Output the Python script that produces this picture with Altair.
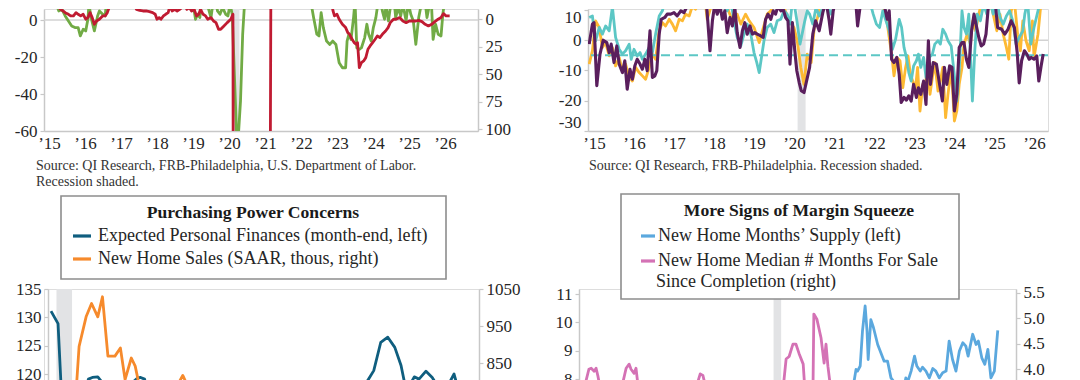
import altair as alt
import pandas as pd

FONT = "Liberation Serif"
AX_GRAY = "#c8c8c8"
LABEL_C = "#262626"
SHADE = "#e2e3e5"

# ---------------- data ----------------
recession_start = [2020.09]
recession_end = [2020.29]

# Top-left: Philly Fed (left, green) vs claims YoY inverted (right, red)
tl_green_year = [
    2014.95, 2015.05, 2015.14, 2015.21, 2015.27, 2015.36, 2015.45, 2015.54, 2015.63, 2015.72,
    2015.81, 2015.87, 2015.95, 2016.02, 2016.08, 2016.11, 2016.17, 2016.26, 2016.35, 2016.40,
    2016.49, 2016.56, 2016.59, 2016.67, 2016.80, 2017.00, 2017.30, 2017.60, 2017.90, 2018.20,
    2018.30, 2018.38, 2018.47, 2018.56, 2018.65, 2018.80, 2018.93, 2018.99, 2019.07, 2019.13,
    2019.19, 2019.23, 2019.32, 2019.46, 2019.50, 2019.55, 2019.62, 2019.68, 2019.75, 2019.82,
    2019.91, 2019.97, 2020.03, 2020.09, 2020.16, 2020.23, 2020.32, 2020.38, 2020.45, 2020.70,
    2021.00, 2021.50, 2021.90, 2022.20, 2022.27, 2022.35, 2022.44, 2022.50, 2022.56, 2022.62,
    2022.71, 2022.80, 2022.88, 2022.97, 2023.06, 2023.15, 2023.24, 2023.28, 2023.33, 2023.39,
    2023.46, 2023.50, 2023.55, 2023.62, 2023.68, 2023.77, 2023.83, 2023.88, 2023.95, 2024.01,
    2024.08, 2024.14, 2024.19, 2024.26, 2024.32, 2024.36, 2024.43, 2024.50, 2024.57, 2024.63,
    2024.70, 2024.77, 2024.83, 2024.92, 2024.98, 2025.05, 2025.12, 2025.19, 2025.27, 2025.36,
    2025.42, 2025.50, 2025.57, 2025.62, 2025.67, 2025.74, 2025.81, 2025.89, 2025.94, 2025.99,
    2026.05]
tl_green_val = [
    12, 9.4, 7.6, 8.5, 4.9, 5.8, 2.2, -0.5, -3.2, -4.1,
    -4.1, -8.6, -5.0, -5.9, 0.4, 8.5, 1.3, -5.9, 2.2, 4.9,
    3.1, 2.2, 8.5, 14, 18, 22, 25, 20, 24, 16,
    12, 9.4, 7.6, 9.4, 14, 17, 13, 10.3, 0.4, 3.1,
    1.3, 8.5, 14, 4.0, 1.3, 8.5, 13, 4.9, 3.1, 6.7,
    3.1, 2.2, 8.5, 3.0, -35, -72, -43.8, -7.7, 15, 30,
    38, 35, 25, 14, 10.3, 1.3, -7.7, -8.6, 4.0, -4.1,
    -11.4, -13.2, -11.4, -13.2, -23.1, -25.8, -25.8, -11.4, -7.7, -10.5,
    1.3, 10.3, -15.0, -15.9, -15.0, -9.5, -2.3, -7.7, -11.4, -4.1,
    1.3, 9.4, 14, 4.9, 0.4, 7.6, -0.5, 9.4, 14, 1.3,
    6.7, 2.2, 8.5, -0.5, 9.4, 3.1, -0.5, -13.2, 1.3, 10.3,
    14, 1.3, 8.5, 10.3, -10.5, -2.3, -7.7, -8.6, 3.1, 10.3,
    15]
tl_red_year = [
    2014.95, 2015.05, 2015.14, 2015.23, 2015.32, 2015.39, 2015.45, 2015.54, 2015.60, 2015.68,
    2015.75, 2015.81, 2015.88, 2015.95, 2016.02, 2016.08, 2016.14, 2016.20, 2016.26, 2016.32,
    2016.40, 2016.49, 2016.56, 2016.62, 2016.67, 2016.76, 2016.85, 2016.94, 2017.03, 2017.10,
    2017.16, 2017.23, 2017.30, 2017.34, 2017.43, 2017.52, 2017.61, 2017.70, 2017.79, 2017.88,
    2017.95, 2018.00, 2018.06, 2018.11, 2018.18, 2018.24, 2018.31, 2018.36, 2018.42, 2018.49,
    2018.56, 2018.63, 2018.69, 2018.76, 2018.83, 2018.90, 2018.96, 2019.03, 2019.10, 2019.16,
    2019.21, 2019.28, 2019.35, 2019.41, 2019.50, 2019.57, 2019.64, 2019.71, 2019.77, 2019.86,
    2019.95, 2020.05, 2020.11, 2020.14, 2020.30, 2020.60, 2021.00, 2021.14, 2021.17, 2021.50,
    2022.00, 2022.50, 2022.84, 2022.89, 2022.93, 2023.00, 2023.06, 2023.15, 2023.24, 2023.30,
    2023.35, 2023.42, 2023.48, 2023.53, 2023.57, 2023.62, 2023.68, 2023.74, 2023.80, 2023.86,
    2023.92, 2023.99, 2024.06, 2024.12, 2024.19, 2024.26, 2024.35, 2024.42, 2024.48, 2024.57,
    2024.64, 2024.74, 2024.83, 2024.92, 2025.01, 2025.10, 2025.19, 2025.27, 2025.36, 2025.45,
    2025.54, 2025.63, 2025.72, 2025.81, 2025.89, 2025.96, 2026.03, 2026.13]
tl_red_val = [
    -17, -15.3, -13.8, -12.3, -9.2, -7.7, -6.2, -4.7, -3.2, -3.2,
    -6.2, -4.7, -3.2, -4.7, -0.2, -1.7, -6.2, -1.7, 4.4, 1.4,
    -0.2, -3.2, -3.2, -6.2, -10.8, -10.8, -11.4, -12.3, -13.2, -15.3,
    -12.3, -13.2, -16.8, -15.3, -9.2, -8.3, -7.7, -7.7, -7.1, -6.2,
    -4.7, -0.2, -1.7, -0.2, -3.2, -4.7, -6.2, -12.3, -7.7, -9.2,
    -7.7, -9.2, -10.8, -13.8, -9.2, -10.8, -7.7, -9.2, -3.2, -4.7,
    -9.2, -4.7, -3.2, -0.2, -1.7, 1.4, 2.9, 8.9, 8.9, 5.9,
    2.9, -0.2, -4.7, 600, 2500, 900, 400, 200, -90, -85,
    -60, -35, -16.8, -7.7, -3.2, -4.7, -0.2, 4.4, 7.4, 12.0,
    13.5, 18.0, 21.1, 22.6, 21.1, 43.8, 39.2, 37.7, 34.7, 27.1,
    24.1, 21.1, 18.0, 15.0, 16.5, 13.5, 10.5, 7.4, 2.9, -0.2,
    -0.2, -1.7, 1.4, 2.9, 1.4, 1.4, 1.4, 0.8, 2.0, 4.4,
    5.9, 4.4, 2.0, -0.2, -1.7, -5.3, -3.2, -3.2]

# Top-right: three survey series and a -5 reference level
tr_purple_year = [
    2014.88, 2014.96, 2015.00, 2015.07, 2015.15, 2015.23, 2015.32, 2015.38, 2015.43, 2015.50,
    2015.57, 2015.63, 2015.71, 2015.77, 2015.83, 2015.90, 2015.96, 2016.02, 2016.08, 2016.15,
    2016.21, 2016.27, 2016.33, 2016.40, 2016.46, 2016.52, 2016.57, 2016.63, 2016.68, 2016.77,
    2016.83, 2016.92, 2017.00, 2017.08, 2017.17, 2017.25, 2017.33, 2017.42, 2017.50, 2017.58,
    2017.67, 2017.79, 2017.90, 2017.96, 2018.02, 2018.08, 2018.15, 2018.21, 2018.27, 2018.33,
    2018.40, 2018.46, 2018.52, 2018.58, 2018.65, 2018.71, 2018.77, 2018.83, 2018.90, 2018.96,
    2019.02, 2019.08, 2019.17, 2019.23, 2019.29, 2019.35, 2019.42, 2019.48, 2019.54, 2019.60,
    2019.67, 2019.73, 2019.79, 2019.85, 2019.90, 2019.96, 2020.02, 2020.07, 2020.13, 2020.18,
    2020.25, 2020.39, 2020.47, 2020.54, 2020.63, 2020.72, 2020.80, 2020.88, 2020.92, 2020.98,
    2021.04, 2021.20, 2021.40, 2021.53, 2021.59, 2021.65, 2021.73, 2021.85, 2021.93, 2022.06,
    2022.14, 2022.22, 2022.33, 2022.38, 2022.44, 2022.50, 2022.57, 2022.63, 2022.68, 2022.75,
    2022.81, 2022.87, 2022.93, 2022.99, 2023.06, 2023.11, 2023.17, 2023.24, 2023.30, 2023.36,
    2023.41, 2023.48, 2023.56, 2023.64, 2023.71, 2023.76, 2023.82, 2023.89, 2023.95, 2024.01,
    2024.07, 2024.13, 2024.20, 2024.25, 2024.31, 2024.37, 2024.44, 2024.50, 2024.55, 2024.62,
    2024.68, 2024.74, 2024.80, 2024.86, 2024.93, 2025.02, 2025.09, 2025.19, 2025.27, 2025.35,
    2025.43, 2025.51, 2025.58, 2025.63, 2025.69, 2025.76, 2025.82, 2025.88, 2025.93, 2026.00,
    2026.07, 2026.12, 2026.18, 2026.23]
tr_purple_val = [
    -1.3, 5.3, 5.8, -15, -4.6, 0, -0.8, -4.1, -1.3, -7.4,
    -1.9, -7.9, -10.7, -6.8, -16.2, -9.6, -12.9, -8.5, -6.3, -7.9,
    -9.6, -6.3, -10.1, 3.1, -12.3, -11.8, -10.1, 2.0, 6.9, 7.5,
    8.6, 8.6, 9.1, 8.0, 9.7, 9.1, 11.3, 11.9, 14, 12.4,
    15, 16, -3.5, 6.4, 11.9, 8.6, 11.3, 6.9, 9.7, 2.5,
    7.5, 4.7, 10.8, 2.5, -2.4, 3.1, 5.8, 2.0, 4.7, 2.0,
    2.5, 2.0, 1.4, 0.9, 6.9, 8.6, 6.9, 9.7, 8.6, 11.3,
    9.7, 10.2, 7.5, 6.4, -7.9, 5.8, -3.5, -10.1, -14, -16.7,
    -17.3, -9.0, 2.0, 6.4, 3.1, 9.1, 13.0, 6.4, 2.0, 9.7,
    13.0, 17, 18, 15, 4.7, 10.8, 14, 16, 11.4, 14,
    10.8, 14, 6.9, 9.7, -6.3, -7.4, -5.7, -11.3, -20.6, -18.9,
    -19.8, -18.4, -20.1, -14.6, -18.9, -15.7, -17.9, -13.5, -21.2, -0.2,
    -14.6, -7.4, -7.9, -14.6, -20.1, -9.0, -14.6, -8.5, -9.0, -23.4,
    -17.9, -2.4, -0.8, -0.8, -6.3, -9.0, 3.1, 8.6, 5.3, 0.9,
    -1.9, -1.3, 2.0, 11.4, 13.0, 14, 4.2, 3.6, 2.0, 3.6,
    6.4, 4.2, -4.1, -14.1, -6.8, -3.5, -4.6, -6.3, -5.7, -6.3,
    -5.2, -13.5, -8.4, -4.6]
tr_cyan_year = [
    2014.88, 2014.96, 2015.04, 2015.13, 2015.21, 2015.29, 2015.38, 2015.46, 2015.54, 2015.63,
    2015.71, 2015.79, 2015.88, 2015.93, 2016.00, 2016.08, 2016.15, 2016.21, 2016.29, 2016.38,
    2016.46, 2016.54, 2016.63, 2016.71, 2016.77, 2017.00, 2017.30, 2017.60, 2017.88, 2018.00,
    2018.17, 2018.33, 2018.42, 2018.50, 2018.58, 2018.67, 2018.75, 2018.83, 2018.92, 2019.00,
    2019.07, 2019.13, 2019.18, 2019.25, 2019.33, 2019.42, 2019.50, 2019.58, 2019.67, 2019.75,
    2019.83, 2019.90, 2019.96, 2020.02, 2020.08, 2020.15, 2020.21, 2020.27, 2020.33, 2020.39,
    2020.47, 2020.55, 2020.63, 2020.72, 2020.80, 2020.92, 2021.04, 2021.30, 2021.60, 2021.89,
    2021.98, 2022.06, 2022.14, 2022.22, 2022.30, 2022.38, 2022.46, 2022.54, 2022.63, 2022.69,
    2022.75, 2022.81, 2022.87, 2022.93, 2022.99, 2023.06, 2023.11, 2023.17, 2023.24, 2023.30,
    2023.38, 2023.46, 2023.52, 2023.60, 2023.66, 2023.72, 2023.79, 2023.85, 2023.93, 2024.01,
    2024.07, 2024.13, 2024.20, 2024.25, 2024.31, 2024.37, 2024.46, 2024.52, 2024.58, 2024.66,
    2024.74, 2024.82, 2024.90, 2024.98, 2025.07, 2025.15, 2025.23, 2025.31, 2025.39, 2025.47,
    2025.55, 2025.63, 2025.72, 2025.77, 2025.84, 2025.92, 2026.00, 2026.08, 2026.16]
tr_cyan_val = [
    7.5, 8.0, -0.2, 4.2, 2.0, 4.7, 3.1, 11, 0.9, -3.0,
    -4.6, -3.5, -1.3, -6.3, -3.0, -5.2, -4.1, -6.3, -4.6, -2.4,
    -4.1, 2.0, 8.0, 9.7, 13, 15, 17, 14, 12.4, 15,
    13, 9.7, 13, 6.4, 0.9, -1.9, 2.0, 5.3, 2.0, -4.1,
    -7.4, -10.7, -6.3, -0.2, 4.2, 5.3, 2.5, 6.4, 6.9, 9.7,
    8.6, 5.3, 13, 10.8, 5.8, -1.3, 2.5, 6.4, 9.7, 8.6,
    5.3, 10.8, 8.0, 10.8, 13, 8.6, 11.9, 17, 16, 13,
    8.6, 5.3, 4.2, 9.7, 6.4, 3.1, -3.0, 0.3, 6.9, 4.2,
    -2.4, -5.7, -10.7, -13.5, -8.5, -6.8, -4.6, -9.0, -5.7, -12.3,
    -5.7, -4.6, -1.3, -0.2, -1.3, 3.6, 2.0, -0.2, -1.9, -11.8,
    -20.1, -10.1, 9.7, 4.2, 2.0, 8.6, -20.1, -3.5, 8.6, 6.4,
    11.9, 8.6, 13, 8.6, 13, 7.5, 5.3, 8.0, 9.7, 6.4,
    -1.3, 0.9, 3.1, 8.6, 13, -1.3, 4.2, 8.6, 13]
tr_yellow_year = [
    2014.88, 2014.96, 2015.04, 2015.13, 2015.21, 2015.29, 2015.38, 2015.46, 2015.54, 2015.63,
    2015.71, 2015.79, 2015.88, 2015.96, 2016.04, 2016.13, 2016.21, 2016.29, 2016.38, 2016.46,
    2016.54, 2016.63, 2016.71, 2016.79, 2016.88, 2016.96, 2017.04, 2017.13, 2017.21, 2017.29,
    2017.38, 2017.46, 2017.54, 2017.63, 2017.75, 2017.83, 2017.92, 2018.00, 2018.20, 2018.33,
    2018.46, 2018.58, 2018.67, 2018.79, 2018.88, 2019.00, 2019.13, 2019.21, 2019.33, 2019.42,
    2019.50, 2019.60, 2019.75, 2019.88, 2020.00, 2020.08, 2020.17, 2020.25, 2020.33, 2020.43,
    2020.51, 2020.59, 2020.67, 2021.00, 2021.50, 2022.00, 2022.18, 2022.30, 2022.38, 2022.44,
    2022.50, 2022.57, 2022.65, 2022.72, 2022.79, 2022.85, 2022.91, 2022.98, 2023.03, 2023.09,
    2023.15, 2023.22, 2023.28, 2023.33, 2023.40, 2023.46, 2023.52, 2023.60, 2023.66, 2023.72,
    2023.79, 2023.85, 2023.93, 2024.01, 2024.07, 2024.13, 2024.20, 2024.25, 2024.33, 2024.41,
    2024.47, 2024.54, 2024.62, 2024.70, 2024.82, 2024.90, 2024.98, 2025.07, 2025.15, 2025.23,
    2025.31, 2025.37, 2025.43, 2025.51, 2025.59, 2025.66, 2025.72, 2025.80, 2025.88, 2025.96,
    2026.00, 2026.10, 2026.18]
tr_yellow_val = [
    -7.9, -3.5, 6.4, 4.2, -2.4, -0.8, -5.2, -2.4, -8.5, -5.7,
    -10.1, -7.9, -12.3, -13.5, -9.0, -10.7, -11.8, -12.9, -9.0, -4.6,
    -6.3, 3.1, 5.8, 4.7, 6.9, 5.3, 3.1, 6.9, 6.4, 8.6,
    8.0, 11.3, 10.2, 13, 16, 6.9, 10.8, 13, 15, 10.8,
    6.4, 8.6, 5.3, 8.6, 6.4, 4.2, -0.8, 3.1, 8.6, 9.7,
    11.9, 14, 10.8, 6.4, 4.2, -0.2, -9.0, -14.6, -4.6, -7.4,
    4.7, 7.5, 13, 18, 20, 16, 13, 8.6, 0.9, -4.6,
    -11.8, -5.7, -6.8, -15.7, -9.0, -5.2, -11.2, -14.0, -16.8, -9.0,
    -23.4, -14.6, -16.8, -7.9, -17.9, -12.3, -7.4, -16.8, -13.5, -9.0,
    -25.6, -17.9, -9.0, -26.7, -23.4, -14.6, -9.0, -1.3, 2.0, -1.3,
    6.4, 3.1, 8.6, 13, 9.7, 13, 8.6, 3.1, 8.6, 2.0,
    -2.4, -6.3, 9.7, 13, 2.0, -3.5, 6.4, -0.2, -3.5, 6.4,
    -5.7, 2.0, 13]
tr_reference_level = [-5]

# Bottom-left: Purchasing Power Concerns
bl_finances_year = [
    2020.02, 2020.11, 2020.17, 2020.25, 2020.35, 2020.45, 2020.50, 2020.55, 2020.62, 2020.66,
    2020.80, 2021.00, 2021.09, 2021.13, 2021.17, 2021.22, 2021.26, 2021.60, 2022.00, 2022.50,
    2023.00, 2023.50, 2023.90, 2024.08, 2024.16, 2024.25, 2024.34, 2024.43, 2024.51, 2024.55,
    2024.62, 2024.68, 2024.74, 2024.83, 2024.91, 2024.95, 2025.05, 2025.12, 2025.19, 2025.23,
    2025.40]
bl_finances_val = [
    131.1, 128.9, 112, 110, 114, 117, 119.1, 119.4, 119.5, 118.8,
    117, 117.5, 118.8, 119.3, 119.4, 119.1, 117, 115, 112, 106,
    110, 114, 117, 118.8, 120.6, 125.6, 126.5, 124.7, 121.5, 118.8,
    118, 119.5, 119.1, 120.5, 119.4, 118.5, 117.5, 118.2, 120.0, 118,
    116]
bl_sales_year = [
    2020.00, 2020.10, 2020.20, 2020.30, 2020.38, 2020.47, 2020.54, 2020.62, 2020.68, 2020.75,
    2020.84, 2020.91, 2020.97, 2021.05, 2021.10, 2021.14, 2021.30, 2021.50, 2021.64, 2021.71,
    2021.77, 2022.00, 2022.30, 2022.60, 2023.00, 2023.50, 2024.00, 2024.50, 2025.00, 2025.40]
bl_sales_val = [
    760, 720, 610, 640, 895, 975, 1011, 975, 1029, 869,
    869, 891, 806, 864, 842, 802, 770, 720, 790, 817,
    790, 780, 700, 600, 640, 690, 660, 700, 680, 660]

# Bottom-right: More Signs of Margin Squeeze
br_supply_year = [
    2015.00, 2016.00, 2017.00, 2018.00, 2019.00, 2020.00, 2020.50, 2021.00, 2021.50, 2021.90,
    2022.10, 2022.21, 2022.26, 2022.30, 2022.37, 2022.43, 2022.50, 2022.55, 2022.58, 2022.65,
    2022.72, 2022.83, 2023.00, 2023.09, 2023.18, 2023.26, 2023.40, 2023.52, 2023.57, 2023.62,
    2023.71, 2023.80, 2023.86, 2023.95, 2024.01, 2024.10, 2024.19, 2024.28, 2024.36, 2024.45,
    2024.54, 2024.63, 2024.71, 2024.80, 2024.89, 2024.98, 2025.07, 2025.15, 2025.21, 2025.33,
    2025.42, 2025.48, 2025.57, 2025.65, 2025.73, 2025.81, 2025.90, 2025.99]
br_supply_val = [
    5.2, 5.3, 5.5, 6.0, 6.3, 5.8, 4.0, 4.5, 5.8, 6.8,
    7.6, 7.93, 8.34, 8.28, 8.46, 9.69, 10.58, 9.69, 8.69, 10.1,
    9.81, 9.22, 8.63, 8.63, 8.04, 7.9, 7.5, 7.6, 8.04, 7.9,
    8.28, 8.81, 8.46, 8.28, 8.42, 8.28, 8.04, 8.37, 8.28, 8.04,
    8.22, 8.28, 9.34, 8.69, 8.28, 8.99, 9.28, 9.16, 8.81, 9.58,
    9.22, 9.34, 8.75, 8.52, 9.05, 8.04, 8.28, 9.72]
br_months_year = [
    2015.00, 2015.15, 2015.23, 2015.29, 2015.37, 2015.42, 2015.47, 2015.51, 2015.75, 2016.00,
    2016.13, 2016.21, 2016.29, 2016.34, 2016.42, 2016.47, 2016.52, 2016.80, 2017.50, 2018.00,
    2018.10, 2018.16, 2018.23, 2018.29, 2018.60, 2019.20, 2019.80, 2020.20, 2020.36, 2020.42,
    2020.50, 2020.60, 2020.68, 2020.76, 2020.87, 2020.90, 2021.00, 2021.13, 2021.15, 2021.23,
    2021.34, 2021.42, 2021.47, 2021.52, 2021.58, 2021.80, 2022.50, 2023.00, 2024.00, 2025.00,
    2025.90]
br_months_val = [
    3.6, 3.76, 4.0, 4.02, 3.96, 4.02, 3.86, 3.7, 3.5, 3.45,
    3.76, 4.02, 4.1, 4.0, 3.92, 4.02, 3.7, 3.5, 3.3, 3.5,
    3.76, 3.91, 3.88, 3.7, 3.5, 3.4, 3.5, 3.6, 3.76, 4.2,
    4.25, 4.49, 4.49, 4.31, 4.1, 3.76, 3.6, 3.76, 5.08, 4.98,
    4.61, 4.12, 4.49, 4.06, 3.7, 3.3, 2.8, 2.9, 3.0, 3.2,
    3.4]

year_ticks = list(range(2015, 2027))

# texts
TL_SOURCE_1 = "Source: QI Research, FRB-Philadelphia, U.S. Department of Labor."
TL_SOURCE_2 = "Recession shaded."
TR_SOURCE = "Source: QI Research, FRB-Philadelphia. Recession shaded."
BL_TITLE = "Purchasing Power Concerns"
BL_ITEM_1 = "Expected Personal Finances (month-end, left)"
BL_ITEM_2 = "New Home Sales (SAAR, thous, right)"
BR_TITLE = "More Signs of Margin Squeeze"
BR_ITEM_1 = "New Home Months\u2019 Supply (left)"
BR_ITEM_2a = "New Home Median # Months For Sale"
BR_ITEM_2b = "Since Completion (right)"

C_GREEN = "#71ab45"
C_RED = "#c01b32"
C_YELLOW = "#fdb933"
C_CYAN = "#5cc7c5"
C_PURPLE = "#5a1f5d"
C_BLUE = "#0f5e7f"
C_ORANGE = "#f68a2c"
C_LBLUE = "#5ba8de"
C_PINK = "#d472b5"

# ---------------- helpers ----------------
ONE = pd.DataFrame({"k": [0]})
rec_df = pd.DataFrame({"start": recession_start, "end": recession_end})
HYPHEN_EXPR = "replace(datum.label, '\u2212', '-')"


def df(years, vals):
    assert len(years) == len(vals)
    return pd.DataFrame({"year": years, "v": vals})


def yaxis(values, orient, fmt=None, flush=None, offset=None):
    kw = dict(values=values, orient=orient, title=None, grid=False,
              domainColor=AX_GRAY, domainWidth=1.5, tickColor=AX_GRAY,
              tickSize=4, tickWidth=1.2, labelFont=FONT, labelFontSize=17,
              labelColor=LABEL_C, labelPadding=3, labelExpr=HYPHEN_EXPR)
    if fmt:
        kw["format"] = fmt
    if flush is not None:
        kw["labelFlush"] = flush
    if offset is not None:
        kw["offset"] = offset
    return alt.Axis(**kw)


def year_axis():
    return alt.Axis(values=year_ticks, title=None, grid=False, ticks=False,
                    domainColor=AX_GRAY, domainWidth=1.5, labelFont=FONT,
                    labelFontSize=17, labelColor=LABEL_C, labelPadding=4,
                    labelFlush=False,
                    labelExpr="'\u2019' + slice(toString(datum.value), 2)")


def xenc(field, domain, axis):
    return alt.X(field, type="quantitative",
                 scale=alt.Scale(domain=domain, nice=False, zero=False), axis=axis)


def line(data, domain_x, axis_x, ydom, yax, color, reverse=False, width=2.8):
    return alt.Chart(data).mark_line(color=color, strokeWidth=width, clip=True,
                                     strokeJoin="round").encode(
        x=xenc("year", domain_x, axis_x),
        y=alt.Y("v:Q", scale=alt.Scale(domain=ydom, nice=False, zero=False,
                                       reverse=reverse), axis=yax),
    )


def shade(domain_x, axis_x):
    return alt.Chart(rec_df).mark_rect(color=SHADE).encode(
        x=xenc("start", domain_x, axis_x), x2="end:Q")


def text(t, x, y, size=14, weight="normal", align="left", color="#333333"):
    return alt.Chart(ONE).mark_text(text=t, font=FONT, fontSize=size, fontWeight=weight,
                                    align=align, baseline="middle", color=color).encode(
        x=alt.value(x), y=alt.value(y))


def hrule(y, ydom, color, width=1.5, dash=None, reverse=False, yax=None):
    kw = dict(color=color, strokeWidth=width)
    if dash:
        kw["strokeDash"] = dash
    return alt.Chart(pd.DataFrame({"v": y})).mark_rule(**kw).encode(
        y=alt.Y("v:Q", scale=alt.Scale(domain=ydom, nice=False, zero=False,
                                       reverse=reverse), axis=yax))


def box(x0, x1, y0, y1):
    return alt.Chart(ONE).mark_rect(fill="white", stroke="#8d8d8d", strokeWidth=1.6).encode(
        x=alt.value(x0), x2=alt.value(x1), y=alt.value(y0), y2=alt.value(y1))


def swatch(x0, x1, y, color):
    return alt.Chart(ONE).mark_rule(color=color, strokeWidth=3.2).encode(
        x=alt.value(x0), x2=alt.value(x1), y=alt.value(y))


LEG_SIZE = 18.0
TITLE_SIZE = 17.6

# ---------------- top-left ----------------
TL_X = [2014.861, 2026.917]
TL_YL = [-60, 5.95]
TL_YR = [-9.5, 101.4]
tl_xax = year_axis()
tl = alt.layer(
    shade(TL_X, tl_xax),
    hrule([0], TL_YL, "#d2d2d2"),
    line(df(tl_green_year, tl_green_val), TL_X, tl_xax, TL_YL,
         yaxis([-60, -40, -20, 0], "left"), C_GREEN),
    line(df(tl_red_year, tl_red_val), TL_X, tl_xax, TL_YR,
         yaxis([0, 25, 50, 75, 100], "right"), C_RED, reverse=True),
    text(TL_SOURCE_1, -8, 157),
    text(TL_SOURCE_2, -8, 173),
    alt.Chart(ONE).mark_rule(color="white", strokeWidth=1).encode(
        x=alt.value(-34.5), x2=alt.value(-33.5), y=alt.value(40)),
).resolve_scale(y="independent").properties(width=434, height=122)

# ---------------- top-right ----------------
TR_X = [2014.85, 2026.35]
TR_Y = [-30, 10.3]
tr_xax = year_axis()
tr_yax = yaxis([-30, -20, -10, 0, 10], "left", flush=3)
tr = alt.layer(
    shade(TR_X, tr_xax),
    hrule([0], TR_Y, "#d2d2d2", yax=tr_yax),
    line(df(tr_yellow_year, tr_yellow_val), TR_X, tr_xax, TR_Y, tr_yax, C_YELLOW),
    line(df(tr_cyan_year, tr_cyan_val), TR_X, tr_xax, TR_Y, tr_yax, C_CYAN),
    hrule(tr_reference_level, TR_Y, C_CYAN, width=2, dash=[9, 5], yax=tr_yax),
    line(df(tr_purple_year, tr_purple_val), TR_X, tr_xax, TR_Y, tr_yax, C_PURPLE, width=3.1),
    text(TR_SOURCE, 1, 157),
).properties(width=460, height=122)

# ---------------- bottom-left ----------------
BL_X = [2019.93, 2025.51]
BL_YL = [118.77, 135]
BL_YR = [802, 1050]
bl = alt.layer(
    shade(BL_X, None),
    line(df(bl_finances_year, bl_finances_val), BL_X, None, BL_YL,
         yaxis([120, 125, 130, 135], "left", offset=-4), C_BLUE),
    line(df(bl_sales_year, bl_sales_val), BL_X, None, BL_YR,
         yaxis([850, 950, 1050], "right", fmt="d"), C_ORANGE),
    box(17, 402, -93, -10),
    text(BL_TITLE, 209, -76, size=TITLE_SIZE, weight="bold", align="center", color="#1a1a1a"),
    swatch(29, 47, -53, C_BLUE),
    swatch(29, 47, -30, C_ORANGE),
    text(BL_ITEM_1, 54, -53, size=LEG_SIZE, color="#262626"),
    text(BL_ITEM_2, 54, -30, size=LEG_SIZE, color="#262626"),
).resolve_scale(y="independent").properties(width=435, height=92)

# ---------------- bottom-right ----------------
BR_X = [2014.97, 2026.47]
BR_YL = [7.93, 11.18]
BR_YR = [3.77, 5.57]
br = alt.layer(
    shade(BR_X, None),
    line(df(br_months_year, br_months_val), BR_X, None, BR_YR,
         yaxis([4.0, 4.5, 5.0, 5.5], "right", fmt=".1f"), C_PINK),
    line(df(br_supply_year, br_supply_val), BR_X, None, BR_YL,
         yaxis([8, 9, 10, 11], "left"), C_LBLUE),
    box(42, 380, -95, 10),
    text(BR_TITLE, 220, -78, size=TITLE_SIZE, weight="bold", align="center", color="#1a1a1a"),
    swatch(62, 76, -53, C_LBLUE),
    swatch(62, 76, -28, C_PINK),
    text(BR_ITEM_1, 79, -53, size=LEG_SIZE, color="#262626"),
    text(BR_ITEM_2a, 79, -28, size=LEG_SIZE, color="#262626"),
    text(BR_ITEM_2b, 77, -7, size=LEG_SIZE, color="#262626"),
).resolve_scale(y="independent").properties(width=437, height=92)

row1 = alt.hconcat(tl, tr, spacing=110, bounds="flush")
row2 = alt.hconcat(bl, br, spacing=100, bounds="flush")
chart = alt.vconcat(row1, row2, spacing=280, bounds="flush", padding=0).configure_view(
    stroke=None).configure(background="white")

chart.save("out.html", embed_options={"renderer": "svg", "actions": False})
